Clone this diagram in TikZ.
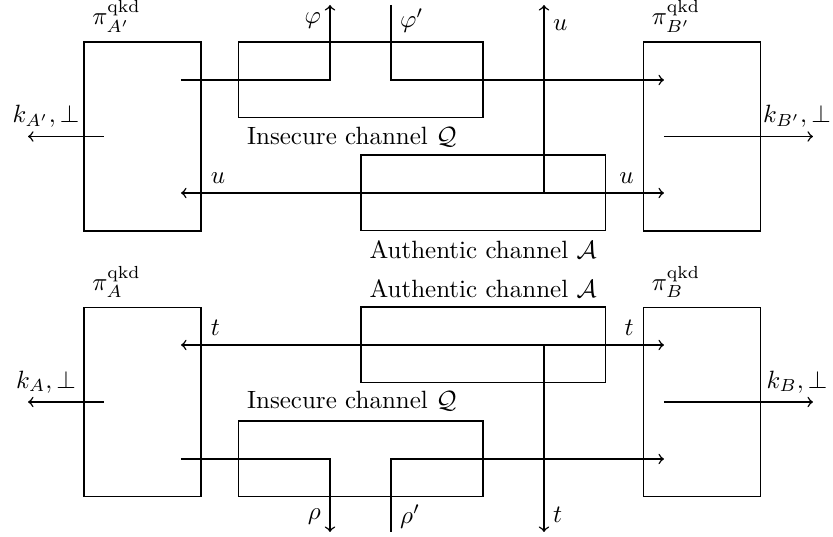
\documentclass[tikz,border=0pt]{standalone}
\usepackage{amsmath}
\usetikzlibrary{arrows}

\begin{document}
\begin{tikzpicture}[x = 1pt, y = 1pt, semithick,
		party/.style = {draw, minimum width = 46.8pt, minimum height = 75.6pt, inner sep = 0pt},
		chan/.style = {draw, minimum width = 97.8pt, minimum height = 30.2pt, inner sep = 0pt}]
		\useasboundingbox (0,0) rectangle (333.2,214.8);
		% top: primed protocol
		\node[party] (Ap) at (57,160.2) {};
		\node[party] (Bp) at (280.8,160.2) {};
		\node[chan] (Qt) at (144.4,182.8) {};
		\node[chan] (At) at (193.4,137.6) {};
		\node[anchor=south west] (lAp) at (Ap.north west) {$\pi^{\text{qkd}}_{A'}$};
		\node[anchor=south west] (lBp) at (Bp.north west) {$\pi^{\text{qkd}}_{B'}$};
		\node[anchor=north west] (lQt) at (Qt.south west) {Insecure channel $\mathcal{Q}$};
		\node[anchor=north west] (lAt) at (At.south west) {Authentic channel $\mathcal{A}$};
		\coordinate (qa) at (72.4,182.8);
		\coordinate (qb) at (265.6,182.8);
		\coordinate (phi) at (132,212.8);
		\coordinate (phip) at (156.4,212.8);
		\coordinate (ua) at (72.4,137.6);
		\coordinate (ub) at (265.6,137.6);
		\coordinate (uo) at (217.6,137.6);
		\coordinate (uu) at (217.6,212.8);
		\coordinate (kAp) at (41.6,160.2);
		\coordinate (kAq) at (11.2,160.2);
		\coordinate (kBp) at (265.6,160.2);
		\coordinate (kBq) at (325.2,160.2);
		\draw[->] (qa) -| (phi);
		\draw[->] (phip) |- (qb);
		\draw[->] (uo) -- (ua);
		\draw[->] (uo) -- (ub);
		\draw[->] (uo) -- (uu);
		\draw[->] (kAp) -- (kAq);
		\draw[->] (kBp) -- (kBq);
		\node[left] (lphi) at (132,206.4) {$\varphi$};
		\node[right] (lphip) at (156.4,206.4) {$\varphi'$};
		\node[right] (luu) at (217.6,204.8) {$u$};
		\node[above right] (lua) at (Ap.east |- ua) {$u$};
		\node[above left] (lub) at (Bp.west |- ub) {$u$};
		\node[above] (lkAp) at (18.4,160.2) {$k_{A'}, \bot$};
		\node[above] (lkBp) at (318.8,160.2) {$k_{B'}, \bot$};
		% bottom: unprimed protocol
		\node[party] (A) at (57,54) {};
		\node[party] (B) at (280.8,54) {};
		\node[chan] (Ab) at (193.4,76.8) {};
		\node[chan] (Qb) at (144.4,31.2) {};
		\node[anchor=south west] (lA) at (A.north west) {$\pi^{\text{qkd}}_{A}$};
		\node[anchor=south west] (lB) at (B.north west) {$\pi^{\text{qkd}}_{B}$};
		\node[anchor=south west] (lAb) at (Ab.north west) {Authentic channel $\mathcal{A}$};
		\node[anchor=south west] (lQb) at (Qb.north west) {Insecure channel $\mathcal{Q}$};
		\coordinate (ta) at (72.4,76.8);
		\coordinate (tb) at (265.6,76.8);
		\coordinate (to) at (217.6,76.8);
		\coordinate (td) at (217.6,2);
		\coordinate (ra) at (72.4,31.2);
		\coordinate (rb) at (265.6,31.2);
		\coordinate (rho) at (132,2);
		\coordinate (rhop) at (156.4,2);
		\coordinate (kA) at (41.6,54);
		\coordinate (kAe) at (11.2,54);
		\coordinate (kB) at (265.6,54);
		\coordinate (kBe) at (325.2,54);
		\draw[->] (to) -- (ta);
		\draw[->] (to) -- (tb);
		\draw[->] (to) -- (td);
		\draw[->] (ra) -| (rho);
		\draw[->] (rhop) |- (rb);
		\draw[->] (kA) -- (kAe);
		\draw[->] (kB) -- (kBe);
		\node[above right] (lta) at (A.east |- ta) {$t$};
		\node[above left] (ltb) at (B.west |- tb) {$t$};
		\node[left] (lrho) at (132,8) {$\rho$};
		\node[right] (lrhop) at (156.4,8) {$\rho'$};
		\node[right] (ltd) at (217.6,8.8) {$t$};
		\node[above] (lkA) at (18.4,54) {$k_{A}, \bot$};
		\node[above] (lkB) at (318.8,54) {$k_{B}, \bot$};
	\end{tikzpicture}
\end{document}
